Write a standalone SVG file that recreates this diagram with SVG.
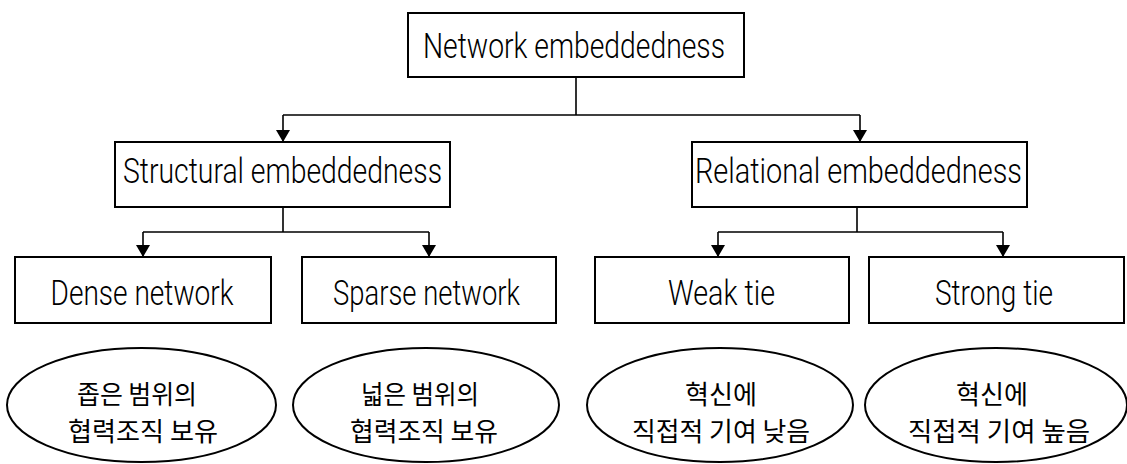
<svg xmlns="http://www.w3.org/2000/svg" width="1127" height="464" viewBox="0 0 1127 464">
<defs>
<style>
.box{fill:#fff;stroke:#000;stroke-width:2}
.ell{fill:#fff;stroke:#000;stroke-width:2}
.t{font-family:Roboto,"Liberation Sans",Arial,sans-serif;font-weight:300;font-size:35px;fill:#000;text-anchor:middle}
.k{font-family:"Noto Sans CJK KR","Noto Sans",sans-serif;font-size:26px;fill:#000;text-anchor:middle}
.ln{fill:none;stroke:#000;stroke-width:1.6}
</style>
<marker id="ah" viewBox="0 0 12 14" refX="12" refY="7" markerWidth="12" markerHeight="14" markerUnits="userSpaceOnUse" orient="auto">
<path d="M0,0 L12,7 L0,14 Z" fill="#000"/>
</marker>
</defs>
<rect width="1127" height="464" fill="#fff"/>
<g id="connectors">
<path class="ln" d="M576,77 V115 M283,115 H860"/>
<path class="ln" d="M283,115 V142" marker-end="url(#ah)"/>
<path class="ln" d="M860,115 V142" marker-end="url(#ah)"/>
<path class="ln" d="M283,207 V232 M143,232 H429"/>
<path class="ln" d="M143,232 V257" marker-end="url(#ah)"/>
<path class="ln" d="M429,232 V257" marker-end="url(#ah)"/>
<path class="ln" d="M857,207 V232 M718,232 H1003"/>
<path class="ln" d="M718,232 V257" marker-end="url(#ah)"/>
<path class="ln" d="M1003,232 V257" marker-end="url(#ah)"/>
</g>
<g id="network-embeddedness">
<rect class="box" x="408" y="13" width="336" height="64"/>
<text class="t" x="574" y="58" textLength="302" lengthAdjust="spacingAndGlyphs">Network embeddedness</text>
</g>
<g id="structural-embeddedness">
<rect class="box" x="115" y="142" width="335" height="65"/>
<text class="t" x="282.5" y="183" textLength="319" lengthAdjust="spacingAndGlyphs">Structural embeddedness</text>
</g>
<g id="relational-embeddedness">
<rect class="box" x="692" y="142" width="335" height="65"/>
<text class="t" x="858.5" y="183" textLength="327" lengthAdjust="spacingAndGlyphs">Relational embeddedness</text>
</g>
<g id="dense-network">
<rect class="box" x="15" y="257" width="256" height="66"/>
<text class="t" x="142" y="305" textLength="183" lengthAdjust="spacingAndGlyphs">Dense network</text>
</g>
<g id="sparse-network">
<rect class="box" x="302" y="257" width="254" height="66"/>
<text class="t" x="426.5" y="305" textLength="187" lengthAdjust="spacingAndGlyphs">Sparse network</text>
</g>
<g id="weak-tie">
<rect class="box" x="595" y="257" width="254" height="66"/>
<text class="t" x="721.5" y="305" textLength="107" lengthAdjust="spacingAndGlyphs">Weak tie</text>
</g>
<g id="strong-tie">
<rect class="box" x="869" y="257" width="255" height="66"/>
<text class="t" x="994" y="305" textLength="118" lengthAdjust="spacingAndGlyphs">Strong tie</text>
</g>
<g id="dense-desc">
<ellipse class="ell" cx="141.5" cy="405" rx="134.5" ry="57"/>
<text class="k" x="137" y="404" textLength="120" lengthAdjust="spacingAndGlyphs">좁은 범위의</text>
<text class="k" x="143" y="441" textLength="150" lengthAdjust="spacingAndGlyphs">협력조직 보유</text>
</g>
<g id="sparse-desc">
<ellipse class="ell" cx="426" cy="405" rx="133" ry="57"/>
<text class="k" x="420" y="404" textLength="118" lengthAdjust="spacingAndGlyphs">넓은 범위의</text>
<text class="k" x="424" y="441" textLength="148" lengthAdjust="spacingAndGlyphs">협력조직 보유</text>
</g>
<g id="weak-desc">
<ellipse class="ell" cx="720" cy="405" rx="133" ry="57"/>
<text class="k" x="721" y="404" textLength="72" lengthAdjust="spacingAndGlyphs">혁신에</text>
<text class="k" x="721" y="441" textLength="178" lengthAdjust="spacingAndGlyphs">직접적 기여 낮음</text>
</g>
<g id="strong-desc">
<ellipse class="ell" cx="996" cy="405" rx="131" ry="57"/>
<text class="k" x="992" y="404" textLength="72" lengthAdjust="spacingAndGlyphs">혁신에</text>
<text class="k" x="999" y="441" textLength="182" lengthAdjust="spacingAndGlyphs">직접적 기여 높음</text>
</g>
</svg>
